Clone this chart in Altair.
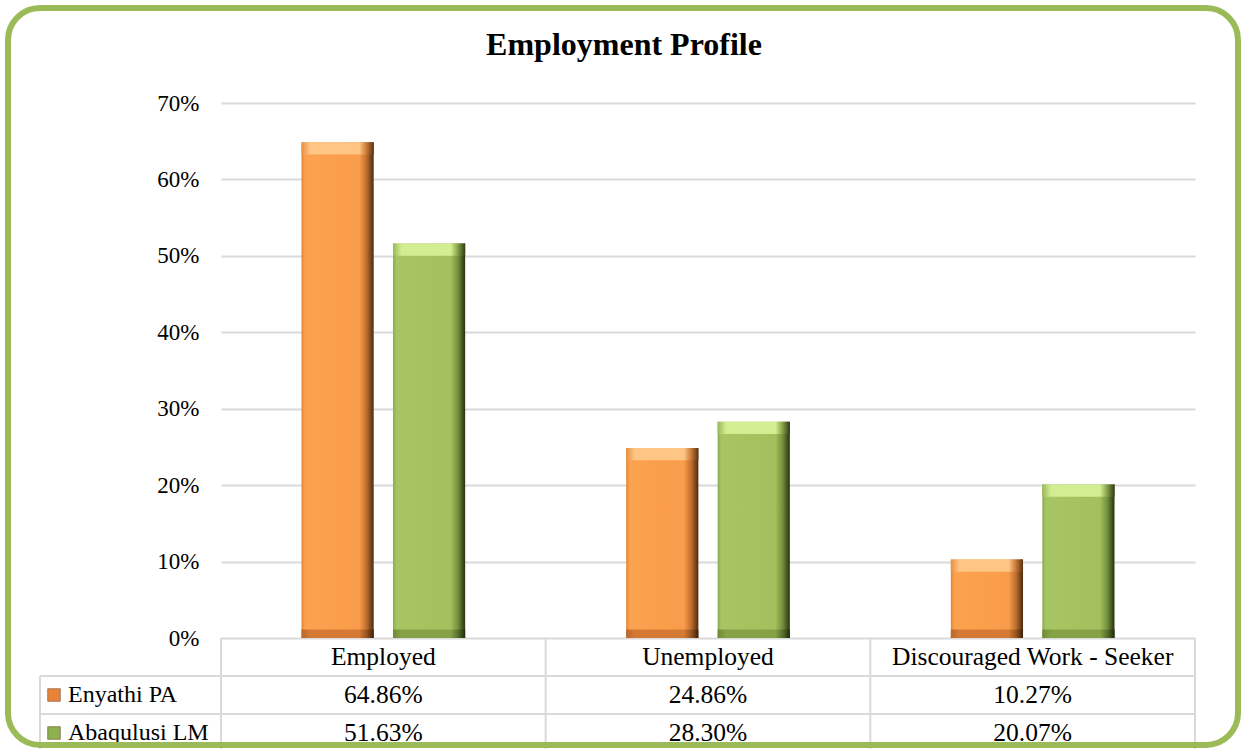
import altair as alt
import pandas as pd

# ---- data ----
categories = ["Employed", "Unemployed", "Discouraged Work - Seeker"]
series = ["Enyathi PA", "Abaqulusi LM"]
enyathi = [0.6486, 0.2486, 0.1027]
abaqulusi = [0.5163, 0.2830, 0.2007]
y_ticks = [0.0, 0.1, 0.2, 0.3, 0.4, 0.5, 0.6, 0.7]
title_text = "Employment Profile"

rows = []
for c, v in zip(categories, enyathi):
    rows.append({"category": c, "series": series[0], "value": v})
for c, v in zip(categories, abaqulusi):
    rows.append({"category": c, "series": series[1], "value": v})
df = pd.DataFrame(rows)
df["label"] = df["value"].map(lambda v: f"{v*100:.2f}%")
cat_df = pd.DataFrame({"category": categories})
ser_df = pd.DataFrame({"series": series})

FONT = "Liberation Serif"
GRID = "#d9d9d9"
W, H = 974, 535
TFS = 25.5

xscale = alt.Scale(domain=categories, paddingInner=0, paddingOuter=0)
xoff_scale = alt.Scale(domain=series, paddingInner=0.211, paddingOuter=0.88)
yscale = alt.Scale(domain=[0, 0.7], nice=False)

X = alt.X("category:N", scale=xscale, axis=None, sort=categories)
XO = alt.XOffset("series:N", scale=xoff_scale, sort=series)


def hgrad(stops):
    return alt.Gradient(gradient="linear", x1=0, x2=1, y1=0, y2=0,
                        stops=[alt.GradientStop(color=c, offset=o) for o, c in stops])


styles = {
    "Enyathi PA": dict(
        body=hgrad([(0, "#e08535"), (0.05, "#fca24f"), (0.8, "#f99c4b"), (0.9, "#c06f2f"), (1, "#4d2a0e")]),
        cap=hgrad([(0, "#e89040"), (0.12, "#ffc585"), (0.8, "#ffc585"), (0.9, "#c97a38"), (1, "#5a3212")]),
        base=hgrad([(0, "#b8672a"), (0.12, "#d47a35"), (0.8, "#d47a35"), (0.9, "#9a5520"), (1, "#3d200a")]),
        legend="#e8843a",
    ),
    "Abaqulusi LM": dict(
        body=hgrad([(0, "#8cab4f"), (0.05, "#a7c562"), (0.8, "#a2c05d"), (0.9, "#74903c"), (1, "#26330f")]),
        cap=hgrad([(0, "#9ab956"), (0.12, "#d3ee92"), (0.8, "#d3ee92"), (0.9, "#849f48"), (1, "#2e3d14")]),
        base=hgrad([(0, "#6f8a38"), (0.12, "#85a246"), (0.8, "#85a246"), (0.9, "#5a702c"), (1, "#1f2a0b")]),
        legend="#8fb04f",
    ),
}

base = alt.Chart(df)
layers = []

# y axis with gridlines (drawn by an invisible layer)
axis_layer = base.mark_bar(opacity=0).encode(
    x=X, xOffset=XO,
    y=alt.Y("value:Q", scale=yscale,
            axis=alt.Axis(values=y_ticks, format=".0%", title=None, grid=True,
                          ticks=False, domain=False, labelPadding=22,
                          labelFont=FONT, labelFontSize=23, labelColor="#000000",
                          gridColor=GRID, gridWidth=2)),
)
layers.append(axis_layer)

for s in series:
    st = styles[s]
    sb = base.transform_filter(alt.datum.series == s)
    layers.append(sb.mark_bar(color=st["body"]).encode(x=X, xOffset=XO, y=alt.Y("value:Q", scale=yscale)))
    layers.append(
        sb.transform_calculate(top2="datum.value - 0.016").mark_bar(color=st["cap"]).encode(
            x=X, xOffset=XO, y=alt.Y("value:Q", scale=yscale), y2="top2:Q"))
    layers.append(
        sb.transform_calculate(b0="0", b1="0.011").mark_bar(color=st["base"]).encode(
            x=X, xOffset=XO, y=alt.Y("b1:Q", scale=yscale), y2="b0:Q"))

# table grid lines
one = alt.Data(values=[{}])
layers.append(alt.Chart(one).mark_rule(color=GRID, strokeWidth=2).encode(
    x=alt.value(-181), x2=alt.value(W), y=alt.value(573)))
layers.append(alt.Chart(one).mark_rule(color=GRID, strokeWidth=2).encode(
    x=alt.value(-181), x2=alt.value(W), y=alt.value(611)))
layers.append(alt.Chart(one).mark_rule(color=GRID, strokeWidth=2).encode(
    x=alt.value(-181), y=alt.value(573), y2=alt.value(650)))
layers.append(alt.Chart(one).mark_rule(color=GRID, strokeWidth=2).encode(
    x=alt.value(W), y=alt.value(H), y2=alt.value(650)))
layers.append(alt.Chart(cat_df).mark_rule(color=GRID, strokeWidth=2).encode(
    x=alt.X("category:N", scale=xscale, axis=None, sort=categories, bandPosition=0),
    y=alt.value(H), y2=alt.value(650)))

# header row
layers.append(alt.Chart(cat_df).mark_text(font=FONT, fontSize=TFS, color="#000000", baseline="middle").encode(
    x=alt.X("category:N", scale=xscale, axis=None, sort=categories), y=alt.value(554), text="category:N"))

row_y = {"Enyathi PA": 592, "Abaqulusi LM": 630}
for s in series:
    sb = base.transform_filter(alt.datum.series == s)
    layers.append(sb.mark_text(font=FONT, fontSize=TFS, color="#000000", baseline="middle").encode(
        x=X, y=alt.value(row_y[s]), text="label:N"))
    sd = alt.Chart(ser_df).transform_filter(alt.datum.series == s)
    layers.append(sd.mark_text(font=FONT, fontSize=24, color="#000000", baseline="middle", align="left").encode(
        x=alt.value(-153), y=alt.value(row_y[s]), text="series:N"))
    layers.append(sd.mark_point(shape="square", filled=True, size=160, color=styles[s]["legend"],
                                stroke="#5a3a1a", strokeWidth=0.5, opacity=1).encode(
        x=alt.value(-167), y=alt.value(row_y[s])))

# title
layers.append(alt.Chart(alt.Data(values=[{"t": title_text}])).mark_text(
    font=FONT, fontSize=32, fontWeight="bold", color="#000000", baseline="middle").encode(
    x=alt.value(403), y=alt.value(-58), text="t:N"))

# rounded green frame
layers.append(alt.Chart(one).mark_rect(
    fillOpacity=0, stroke="#9bbb59", strokeWidth=6, cornerRadius=32).encode(
    x=alt.value(-213), x2=alt.value(1017), y=alt.value(-95), y2=alt.value(642)))

chart = alt.layer(*layers).properties(
    width=W, height=H,
    autosize=alt.AutoSizeParams(type="none"),
    padding={"left": 221, "top": 103, "right": 46, "bottom": 111},
    background="#ffffff",
).configure_view(stroke=None)

chart.save("out.html", embed_options={"renderer": "svg", "actions": False})
